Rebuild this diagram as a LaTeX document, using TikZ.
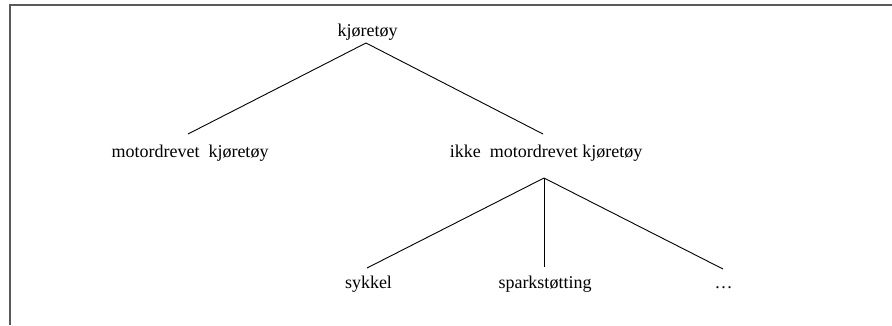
\documentclass[tikz,border=0pt]{standalone}
\usepackage{fontspec}
\setmainfont{Liberation Serif}
\begin{document}
\begin{tikzpicture}[x=1pt,y=-1pt,
  label/.style={anchor=base,inner sep=0pt,font=\fontsize{18}{20}\selectfont},
  branch/.style={line width=0.9pt,black},
  frame/.style={line width=1.6pt,draw=black!65}]
\useasboundingbox (0,0) rectangle (892,325);
% open frame along left and top edges
\draw[frame] (10,325) -- (10,5) -- (892,5);

% labels
\node[label] (root)  at (367.5,36)  {kjøretøy};
\node[label] (motor) at (190,157)   {motordrevet\ \ kjøretøy};
\node[label] (ikke)  at (546,157)   {ikke\ \ motordrevet kjøretøy};
\node[label] (syk)   at (368.5,288) {sykkel};
\node[label] (spark) at (545,288)   {sparkstøtting};
\node[label] (more)  at (723.5,288) {\dots};

% branch points
\coordinate (rootapex) at (366,43);
\coordinate (motortop) at (188,134);
\coordinate (ikketop)  at (543,134);
\coordinate (ikkeapex) at (544,178);
\coordinate (syktop)   at (367,268);
\coordinate (sparktop) at (544,267);
\coordinate (moretop)  at (723,269);

\draw[branch] (motortop) -- (rootapex) -- (ikketop);
\draw[branch] (syktop) -- (ikkeapex) -- (moretop);
\draw[branch] (ikkeapex) -- (sparktop);
\end{tikzpicture}
\end{document}
